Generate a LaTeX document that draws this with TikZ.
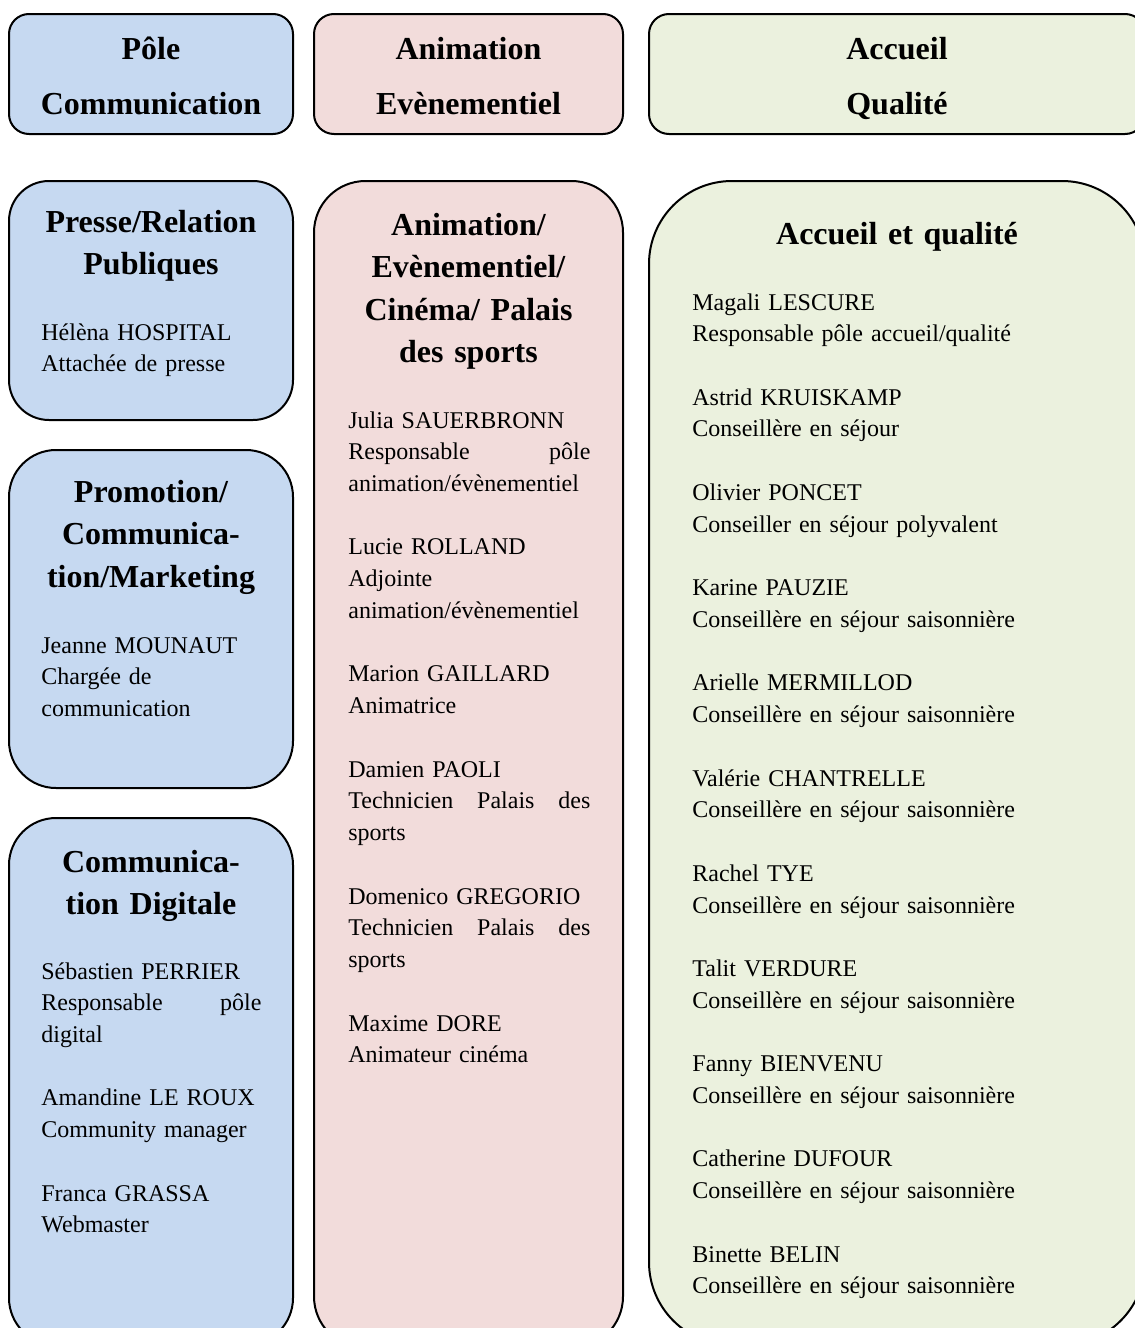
\documentclass[tikz,border=0pt]{standalone}
\usepackage{fontspec}
\setmainfont{Liberation Serif}
\usepackage{xcolor}
\definecolor{comblue}{HTML}{C6D9F1}
\definecolor{animpink}{HTML}{F2DCDB}
\definecolor{accgreen}{HTML}{EBF1DE}
\tikzset{box/.style={draw=black, line width=1pt}}
\tikzset{toptitle/.style={font=\bfseries\fontsize{16}{27.5}\selectfont,
  align=center, anchor=base, inner sep=0pt, text width=140pt}}
\tikzset{title/.style={font=\bfseries\fontsize{16}{21.16}\selectfont,
  align=center, anchor=base, inner sep=0pt, text width=140pt}}
\tikzset{entry/.style={font=\fontsize{12}{15.87}\selectfont,
  align=left, anchor=base west, inner sep=0pt, text width=220pt}}

\begin{document}
\begin{tikzpicture}[x=0.5pt,y=-0.5pt]
      \useasboundingbox (0,0) rectangle (1135,1328);
      \clip (0,0) rectangle (1135,1328);
      % poles
      \draw [box, fill=comblue, rounded corners=10pt] (9,14) rectangle (293,134);
      \draw [box, fill=animpink, rounded corners=10pt] (314,14) rectangle (623,134);
      \draw [box, fill=accgreen, rounded corners=10pt] (649,14) rectangle (1145,134);
      % services
      \draw [box, fill=comblue, rounded corners=20pt] (9,181) rectangle (293,420);
      \draw [box, fill=comblue, rounded corners=23.5pt] (9,450) rectangle (293,788);
      \draw [box, fill=comblue, rounded corners=23.5pt] (9,818) rectangle (293,1345);
      \draw [box, fill=animpink, rounded corners=25.75pt] (314,181) rectangle (623,1348);
      \draw [box, fill=accgreen, rounded corners=41.5pt] (649,181) rectangle (1145,1345);
      % titles
      \node (pole-com) [toptitle] at (151,59.5) {Pôle\\Communication};
      \node (pole-anim) [toptitle] at (468.5,59.5) {Animation\\Evènementiel};
      \node (pole-acc) [toptitle] at (897,59.5) {Accueil\\Qualité};
      \node (presse) [title] at (151,232.5) {Presse/Relation\\Publiques};
      \node (promo) [title] at (151,502.5) {Promotion/\\Communica-\\tion/Marketing};
      \node (digital) [title] at (151,872.5) {Communica-\\tion Digitale};
      \node (animation) [title] at (468.5,235.5) {Animation/\\Evènementiel/\\Cinéma/ Palais\\des sports};
      \node (accueil) [title] at (897,244.5) {Accueil et qualité};
      % staff
      \node (presse-staff) [entry] at (41,340) {Hélèna HOSPITAL\\Attachée de presse};
      \node (promo-staff) [entry] at (41,653) {Jeanne MOUNAUT\\Chargée de\\communication};
      \node (digital-staff) [entry, text width=110pt] at (41,979) {Sébastien PERRIER\\Responsable\hfill pôle\\digital\\[15.87pt]%
        Amandine LE ROUX\\Community manager\\[15.87pt]%
        Franca GRASSA\\Webmaster};
      \node (anim-staff) [entry, text width=121pt] at (348,428) {Julia SAUERBRONN\\Responsable\hfill pôle\\animation/évènementiel\\[15.87pt]%
        Lucie ROLLAND\\Adjointe\\animation/évènementiel\\[15.87pt]%
        Marion GAILLARD\\Animatrice\\[15.87pt]%
        Damien PAOLI\\Technicien\hfill Palais\hfill des\\sports\\[15.87pt]%
        Domenico GREGORIO\\Technicien\hfill Palais\hfill des\\sports\\[15.87pt]%
        Maxime DORE\\Animateur cinéma};
      \node (acc-staff) [entry] at (692,310) {Magali LESCURE\\Responsable pôle accueil/qualité\\[15.87pt]%
        Astrid KRUISKAMP\\Conseillère en séjour\\[15.87pt]%
        Olivier PONCET\\Conseiller en séjour polyvalent\\[15.87pt]%
        Karine PAUZIE\\Conseillère en séjour saisonnière\\[15.87pt]%
        Arielle MERMILLOD\\Conseillère en séjour saisonnière\\[15.87pt]%
        Valérie CHANTRELLE\\Conseillère en séjour saisonnière\\[15.87pt]%
        Rachel TYE\\Conseillère en séjour saisonnière\\[15.87pt]%
        Talit VERDURE\\Conseillère en séjour saisonnière\\[15.87pt]%
        Fanny BIENVENU\\Conseillère en séjour saisonnière\\[15.87pt]%
        Catherine DUFOUR\\Conseillère en séjour saisonnière\\[15.87pt]%
        Binette BELIN\\Conseillère en séjour saisonnière};
\end{tikzpicture}
\end{document}
